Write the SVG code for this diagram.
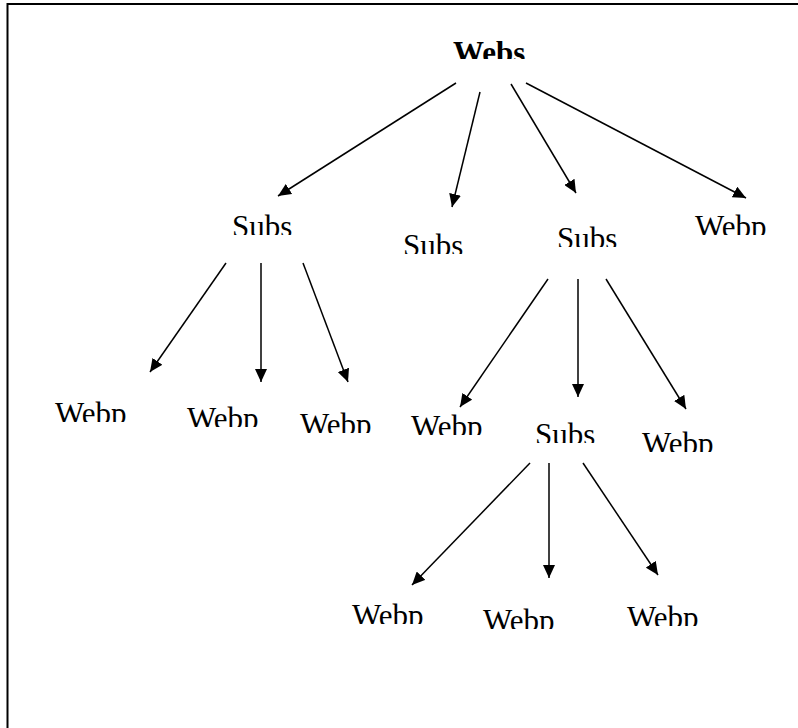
<svg xmlns="http://www.w3.org/2000/svg" width="798" height="728" viewBox="0 0 798 728">
<style>
.t{font-family:"Liberation Serif","Times New Roman",serif;font-size:31px;fill:#000}
.b{font-weight:bold}
.c line{stroke:#000;stroke-width:1.5;marker-end:url(#ah)}
</style>
<defs>
<marker id="ah" markerUnits="userSpaceOnUse" markerWidth="14" markerHeight="12" viewBox="0 0 14 12" refX="13" refY="6" orient="auto">
<path d="M0,0 L13,6 L0,12 z" fill="#000"/>
</marker>
<clipPath id="c0"><rect x="0" y="0" width="798" height="59"/></clipPath>
<clipPath id="c1"><rect x="0" y="180" width="798" height="55"/></clipPath>
<clipPath id="c2"><rect x="0" y="200" width="798" height="54"/></clipPath>
<clipPath id="c3"><rect x="0" y="200" width="798" height="47"/></clipPath>
<clipPath id="c4"><rect x="0" y="180" width="798" height="55"/></clipPath>
<clipPath id="c5"><rect x="0" y="380" width="798" height="42"/></clipPath>
<clipPath id="c6"><rect x="0" y="380" width="798" height="47"/></clipPath>
<clipPath id="c7"><rect x="0" y="390" width="798" height="43"/></clipPath>
<clipPath id="c8"><rect x="0" y="390" width="798" height="45"/></clipPath>
<clipPath id="c9"><rect x="0" y="400" width="798" height="43"/></clipPath>
<clipPath id="c10"><rect x="0" y="410" width="798" height="42"/></clipPath>
<clipPath id="c11"><rect x="0" y="580" width="798" height="44"/></clipPath>
<clipPath id="c12"><rect x="0" y="590" width="798" height="39"/></clipPath>
<clipPath id="c13"><rect x="0" y="585" width="798" height="41"/></clipPath>
</defs>
<rect x="7.5" y="4" width="800" height="800" fill="none" stroke="#000" stroke-width="2"/>
<g id="webs"><text class="t b" x="453" y="62.5" clip-path="url(#c0)">Webs</text></g>
<g id="subs1"><text class="t" x="232" y="236.5" clip-path="url(#c1)">Subs</text></g>
<g id="subs2"><text class="t" x="403" y="255.5" clip-path="url(#c2)">Subs</text></g>
<g id="subs3"><text class="t" x="557" y="248.5" clip-path="url(#c3)">Subs</text></g>
<g id="webp1"><text class="t" x="695" y="236.5" clip-path="url(#c4)">Webp</text></g>
<g id="webp2"><text class="t" x="55" y="423.5" clip-path="url(#c5)">Webp</text></g>
<g id="webp3"><text class="t" x="187" y="428.5" clip-path="url(#c6)">Webp</text></g>
<g id="webp4"><text class="t" x="300" y="434.5" clip-path="url(#c7)">Webp</text></g>
<g id="webp5"><text class="t" x="411" y="436.5" clip-path="url(#c8)">Webp</text></g>
<g id="subs4"><text class="t" x="535" y="444.5" clip-path="url(#c9)">Subs</text></g>
<g id="webp6"><text class="t" x="642" y="453.5" clip-path="url(#c10)">Webp</text></g>
<g id="webp7"><text class="t" x="352" y="625.5" clip-path="url(#c11)">Webp</text></g>
<g id="webp8"><text class="t" x="483" y="630.5" clip-path="url(#c12)">Webp</text></g>
<g id="webp9"><text class="t" x="627" y="627.5" clip-path="url(#c13)">Webp</text></g>
<g id="connectors" class="c">
<line x1="456" y1="83" x2="278" y2="196"/>
<line x1="480" y1="92" x2="452" y2="207"/>
<line x1="511" y1="84" x2="576" y2="193"/>
<line x1="526" y1="83" x2="746" y2="198"/>
<line x1="226" y1="263" x2="150" y2="372"/>
<line x1="261" y1="263" x2="261" y2="382"/>
<line x1="303" y1="263" x2="348" y2="382"/>
<line x1="548" y1="279" x2="460" y2="407"/>
<line x1="578" y1="279" x2="578" y2="397"/>
<line x1="606" y1="279" x2="686" y2="409"/>
<line x1="530" y1="463" x2="412" y2="585"/>
<line x1="549" y1="463" x2="549" y2="578"/>
<line x1="583" y1="463" x2="658" y2="575"/>
</g>
</svg>
